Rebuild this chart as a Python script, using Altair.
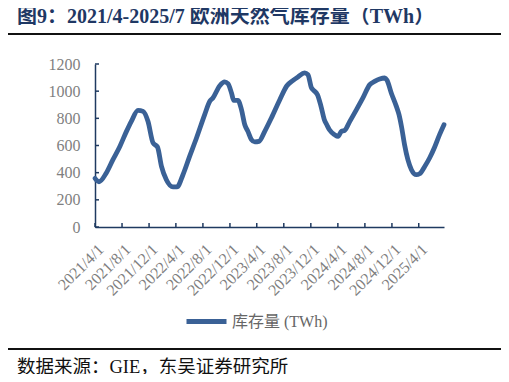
import altair as alt
import pandas as pd

# ---------------- data ----------------
dates = [
    "2021-04-01", "2021-04-19", "2021-05-22", "2021-06-21", "2021-07-21", "2021-08-21",
    "2021-09-12", "2021-10-12", "2021-11-04", "2021-11-26", "2021-12-19", "2022-01-08",
    "2022-01-26", "2022-02-17", "2022-03-19", "2022-04-06", "2022-05-03", "2022-06-02",
    "2022-07-03", "2022-08-09", "2022-09-01", "2022-09-15", "2022-10-16", "2022-11-07",
    "2022-11-22", "2022-12-08", "2022-12-18", "2023-01-06", "2023-01-22", "2023-02-06",
    "2023-02-20", "2023-03-08", "2023-03-23", "2023-04-11", "2023-05-07", "2023-06-06",
    "2023-07-14", "2023-08-15", "2023-09-12", "2023-10-04", "2023-11-03", "2023-11-18",
    "2023-12-04", "2023-12-11", "2023-12-31", "2024-01-16", "2024-01-31", "2024-02-11",
    "2024-02-23", "2024-03-17", "2024-04-02", "2024-04-17", "2024-05-02", "2024-05-25",
    "2024-06-24", "2024-07-23", "2024-08-23", "2024-09-14", "2024-10-07", "2024-10-30",
    "2024-11-09", "2024-11-28", "2024-12-21", "2025-01-02", "2025-01-13", "2025-01-27",
    "2025-02-11", "2025-02-27", "2025-03-21", "2025-04-05", "2025-04-28", "2025-05-20",
    "2025-06-12", "2025-07-04", "2025-07-24",
]
values = [
    358, 333, 398, 496, 589, 704,
    778, 859, 851, 778, 619, 589,
    446, 348, 295, 295, 385, 520,
    655, 827, 925, 950, 1040, 1068,
    1055, 987, 932, 932, 864, 753,
    704, 643, 626, 630, 704, 803,
    937, 1040, 1080, 1105, 1134, 1121,
    1024, 1010, 974, 888, 790, 753,
    716, 680, 667, 704, 711, 778,
    864, 950, 1048, 1072, 1090, 1097,
    1080, 987, 888, 827, 741, 606,
    496, 422, 385, 392, 446, 508,
    589, 680, 753,
]
series_name = "库存量 (TWh)"
x_tick_dates = [
    "2021-04-01", "2021-08-01", "2021-12-01", "2022-04-01", "2022-08-01",
    "2022-12-01", "2023-04-01", "2023-08-01", "2023-12-01", "2024-04-01",
    "2024-08-01", "2024-12-01", "2025-04-01",
]
x_domain = ["2021-04-01", "2025-07-24"]
y_ticks = [0, 200, 400, 600, 800, 1000, 1200]

title_text = "图9：2021/4-2025/7 欧洲天然气库存量（TWh）"
source_text = "数据来源：GIE，东吴证券研究所"

# ---------------- style ----------------
W, H = 349, 163
LINE_COLOR = "#3a6196"
AXIS_COLOR = "#1f3a60"
LABEL_COLOR = "#7f7f7f"
SERIF = "Liberation Serif, Noto Sans CJK SC"


def ms(d):
    return int(pd.Timestamp(d, tz="UTC").value // 10**6)


df = pd.DataFrame({"date": dates, "value": values, "series": series_name})
ticks_df = pd.DataFrame({"date": x_tick_dates})
yt_df = pd.DataFrame({"v": y_ticks})

x_scale = alt.Scale(type="utc", domain=[ms(d) for d in x_domain])
y_scale = alt.Scale(domain=[0, 1200])

x_axis = alt.Axis(
    values=[ms(d) for d in x_tick_dates],
    format="%Y/%-m/%-d",
    labelAngle=-45,
    labelAlign="right",
    labelBaseline="top",
    labelPadding=14,
    labelFontSize=16,
    labelFont=SERIF,
    labelColor=LABEL_COLOR,
    labelOverlap=False,
    labelFlush=False,
    labelBound=False,
    ticks=False,
    tickSize=0,
    grid=False,
    domainColor=AXIS_COLOR,
    domainWidth=1.5,
    title=None,
)
y_axis = alt.Axis(
    values=y_ticks,
    format="d",
    labelPadding=15,
    labelFontSize=16,
    labelFont=SERIF,
    labelColor=LABEL_COLOR,
    labelOverlap=False,
    labelFlush=False,
    labelBound=False,
    ticks=False,
    tickSize=0,
    grid=False,
    domainColor=AXIS_COLOR,
    domainWidth=1.5,
    title=None,
)

line = alt.Chart(df).mark_line(
    strokeWidth=4.8, interpolate="monotone", strokeCap="round", strokeJoin="round"
).encode(
    x=alt.X("date:T", scale=x_scale, axis=x_axis),
    y=alt.Y("value:Q", scale=y_scale, axis=y_axis),
    color=alt.Color(
        "series:N",
        scale=alt.Scale(domain=[series_name], range=[LINE_COLOR]),
        legend=alt.Legend(
            orient="none",
            legendX=89,
            legendY=235,
            title=None,
            symbolType="stroke",
            symbolSize=1600,
            symbolStrokeWidth=5,
            labelFontSize=16,
            labelFont=SERIF,
            labelColor="#666666",
            labelOffset=3,
        ),
    ),
)

# inward ticks
x_ticks = alt.Chart(ticks_df).mark_rule(color=AXIS_COLOR, strokeWidth=1.5).encode(
    x=alt.X("date:T", scale=x_scale, axis=x_axis),
    y=alt.value(H),
    y2=alt.value(H - 4),
)
y_tick_marks = alt.Chart(yt_df).mark_rule(color=AXIS_COLOR, strokeWidth=1.5).encode(
    y=alt.Y("v:Q", scale=y_scale, axis=y_axis),
    x=alt.value(0),
    x2=alt.value(4),
)

# title, separators and source note
title = alt.Chart(pd.DataFrame({"t": [title_text]})).mark_text(
    align="left", baseline="alphabetic", fontSize=20, fontWeight="bold",
    font=SERIF, color="#1f3864",
).encode(text="t:N", x=alt.value(-78), y=alt.value(-41))

top_rule = alt.Chart(pd.DataFrame({"a": [0]})).mark_rule(
    color="#111111", strokeWidth=2
).encode(x=alt.value(-90), x2=alt.value(408), y=alt.value(-30))

bottom_rule = alt.Chart(pd.DataFrame({"a": [0]})).mark_rule(
    color="#111111", strokeWidth=2
).encode(x=alt.value(-90), x2=alt.value(408), y=alt.value(285))

source = alt.Chart(pd.DataFrame({"t": [source_text]})).mark_text(
    align="left", baseline="alphabetic", fontSize=18.5, font=SERIF, color="#111111",
).encode(text="t:N", x=alt.value(-78), y=alt.value(309))

chart = alt.layer(
    line, x_ticks, y_tick_marks, title, top_rule, bottom_rule, source
).properties(
    width=W,
    height=H,
    padding={"left": 87, "top": 56, "right": 57, "bottom": 147},
    autosize=alt.AutoSizeParams(type="none"),
).configure_view(stroke=None).configure_axis(labelOverlap=False)

chart.save("out.html", embed_options={"renderer": "svg", "actions": False})
